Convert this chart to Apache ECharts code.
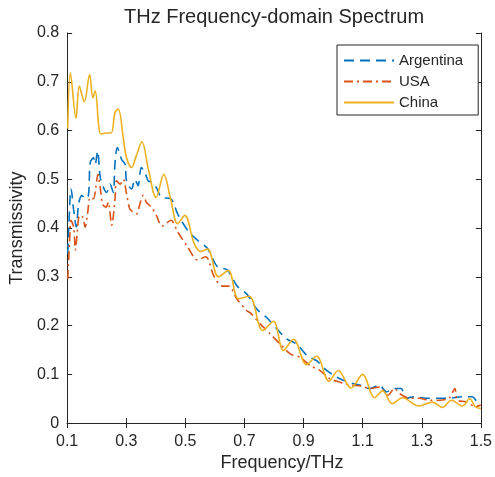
<!DOCTYPE html>
<html>
<head>
<meta charset="utf-8">
<script src="https://cdn.jsdelivr.net/npm/echarts@6/dist/echarts.min.js"></script>
<style>
  html, body { margin: 0; padding: 0; background: #fff; }
  #chart { width: 495px; height: 477px; }
</style>
</head>
<body>
<div id="chart"></div>
<script>
const xTicks = [0.1, 0.3, 0.5, 0.7, 0.9, 1.1, 1.3, 1.5];

// [frequency THz, transmissivity]
const argentina = [
  [0.102, 0.348], [0.111, 0.477], [0.113, 0.48], [0.122, 0.437], [0.131, 0.402],
  [0.139, 0.45], [0.150, 0.467], [0.161, 0.46], [0.172, 0.467], [0.178, 0.534],
  [0.189, 0.544], [0.195, 0.531], [0.203, 0.558], [0.212, 0.504], [0.223, 0.483],
  [0.234, 0.473], [0.245, 0.49], [0.256, 0.473], [0.262, 0.534], [0.270, 0.565],
  [0.284, 0.541], [0.296, 0.531], [0.301, 0.497], [0.318, 0.48], [0.329, 0.50],
  [0.340, 0.487], [0.351, 0.524], [0.363, 0.514], [0.374, 0.497], [0.385, 0.494],
  [0.402, 0.483], [0.419, 0.463], [0.451, 0.46], [0.474, 0.429], [0.507, 0.396],
  [0.541, 0.375], [0.575, 0.358], [0.608, 0.321], [0.642, 0.314], [0.675, 0.281],
  [0.709, 0.264], [0.743, 0.233], [0.776, 0.216], [0.810, 0.193], [0.844, 0.172],
  [0.877, 0.162], [0.911, 0.139], [0.944, 0.128], [0.978, 0.108], [1.023, 0.091],
  [1.067, 0.081], [1.090, 0.078], [1.124, 0.071], [1.157, 0.078], [1.180, 0.064],
  [1.208, 0.071], [1.230, 0.071], [1.247, 0.051], [1.275, 0.054], [1.314, 0.051],
  [1.359, 0.051], [1.392, 0.051], [1.437, 0.054], [1.471, 0.054], [1.487, 0.044],
  [1.500, 0.040]
];

const usa = [
  [0.102, 0.295], [0.108, 0.368], [0.113, 0.416], [0.122, 0.402], [0.128, 0.355],
  [0.133, 0.382], [0.142, 0.426], [0.153, 0.422], [0.161, 0.402], [0.169, 0.429],
  [0.178, 0.463], [0.189, 0.46], [0.197, 0.483], [0.204, 0.51], [0.212, 0.483],
  [0.220, 0.449], [0.232, 0.443], [0.239, 0.453], [0.251, 0.406], [0.262, 0.46],
  [0.267, 0.497], [0.279, 0.49], [0.290, 0.50], [0.301, 0.47], [0.312, 0.439],
  [0.324, 0.433], [0.335, 0.429], [0.346, 0.449], [0.357, 0.467], [0.368, 0.453],
  [0.385, 0.443], [0.402, 0.426], [0.421, 0.404], [0.451, 0.416], [0.474, 0.392],
  [0.507, 0.362], [0.541, 0.335], [0.569, 0.341], [0.597, 0.301], [0.625, 0.281],
  [0.647, 0.281], [0.675, 0.254], [0.709, 0.23], [0.720, 0.226], [0.754, 0.203],
  [0.787, 0.183], [0.821, 0.162], [0.855, 0.142], [0.888, 0.135], [0.922, 0.118],
  [0.955, 0.108], [0.989, 0.091], [1.023, 0.084], [1.056, 0.078], [1.096, 0.076],
  [1.124, 0.071], [1.157, 0.074], [1.185, 0.057], [1.208, 0.071], [1.224, 0.061],
  [1.258, 0.051], [1.292, 0.051], [1.325, 0.047], [1.359, 0.047], [1.392, 0.051],
  [1.412, 0.071], [1.420, 0.047], [1.449, 0.044], [1.482, 0.034], [1.500, 0.037]
];

const china = [
  [0.102, 0.604], [0.111, 0.718], [0.130, 0.625], [0.141, 0.691], [0.158, 0.659],
  [0.176, 0.715], [0.187, 0.667], [0.195, 0.681], [0.214, 0.593], [0.234, 0.595],
  [0.249, 0.595], [0.262, 0.637], [0.273, 0.644], [0.290, 0.585], [0.301, 0.544],
  [0.318, 0.524], [0.335, 0.55], [0.353, 0.577], [0.375, 0.52], [0.401, 0.463],
  [0.427, 0.510], [0.450, 0.46], [0.474, 0.409], [0.498, 0.426], [0.530, 0.368],
  [0.552, 0.352], [0.575, 0.357], [0.612, 0.300], [0.645, 0.313], [0.680, 0.255],
  [0.716, 0.260], [0.762, 0.190], [0.798, 0.209], [0.832, 0.149], [0.866, 0.172],
  [0.910, 0.120], [0.944, 0.137], [0.986, 0.086], [1.017, 0.108], [1.060, 0.072],
  [1.100, 0.100], [1.140, 0.052], [1.168, 0.066], [1.200, 0.040], [1.235, 0.052],
  [1.290, 0.035], [1.336, 0.043], [1.370, 0.032], [1.400, 0.047], [1.437, 0.035],
  [1.462, 0.050], [1.482, 0.033], [1.500, 0.030]
];

const font = "'Liberation Sans', Arial, Helvetica, sans-serif";
const ink = "#262626";

const chart = echarts.init(document.getElementById("chart"), null, { renderer: "canvas" });

const axisBase = {
  axisLine: { show: true, lineStyle: { color: ink, width: 1 } },
  axisTick: { show: true, inside: true, length: 5, lineStyle: { color: ink } },
  splitLine: { show: false },
};

const option = {
  backgroundColor: "#fff",
  animation: false,
  title: {
    text: "THz Frequency-domain Spectrum",
    left: 124, // centred over the plot area, not the canvas
    top: 7,
    padding: 0,
    textStyle: { fontFamily: font, fontSize: 20, fontWeight: "normal", color: ink },
  },
  legend: {
    orient: "vertical",
    left: 337,
    top: 45,
    padding: [8, 15, 5, 6],
    itemWidth: 50,
    itemHeight: 14,
    itemGap: 6,
    borderColor: ink,
    borderWidth: 1,
    backgroundColor: "#fff",
    selectedMode: false,
    // hide the marker dot, keep the dashed line sample
    itemStyle: { color: "transparent", borderColor: "transparent", borderWidth: 0, opacity: 0 },
    textStyle: { fontFamily: font, fontSize: 15, color: ink },
    data: ["Argentina", "USA", "China"],
  },
  grid: { left: 66, right: 12, top: 33, bottom: 49, containLabel: false },
  xAxis: [
    {
      ...axisBase,
      type: "value",
      min: 0.1,
      max: 1.5,
      name: "Frequency/THz",
      nameLocation: "middle",
      nameGap: 28,
      nameTextStyle: { fontFamily: font, fontSize: 18, color: ink, padding: [0, 0, 0, 16] },
      axisTick: { ...axisBase.axisTick, customValues: xTicks },
      axisLabel: { customValues: xTicks, margin: 10, fontFamily: font, fontSize: 16, color: ink },
    },
    {
      ...axisBase,
      type: "value",
      position: "top",
      min: 0.1,
      max: 1.5,
      axisTick: { ...axisBase.axisTick, customValues: xTicks },
      axisLabel: { show: false },
    },
  ],
  yAxis: [
    {
      ...axisBase,
      type: "value",
      min: 0,
      max: 0.8,
      interval: 0.1,
      name: "Transmissivity",
      nameLocation: "middle",
      nameGap: 39,
      nameTextStyle: { fontFamily: font, fontSize: 18, color: ink },
      axisLabel: { margin: 8, fontFamily: font, fontSize: 16, color: ink },
    },
    {
      ...axisBase,
      type: "value",
      position: "right",
      min: 0,
      max: 0.8,
      interval: 0.1,
      axisLabel: { show: false },
    },
  ],
  series: [
    {
      name: "Argentina",
      type: "line",
      data: argentina,
      symbol: "none",
      smooth: 0.3,
      lineStyle: { color: "#0072BD", width: 1.6, type: [10, 6] },
      itemStyle: { color: "#0072BD" },
    },
    {
      name: "USA",
      type: "line",
      data: usa,
      symbol: "none",
      smooth: 0.3,
      lineStyle: { color: "#D95319", width: 1.6, type: [9, 4, 2, 4] },
      itemStyle: { color: "#D95319" },
    },
    {
      name: "China",
      type: "line",
      data: china,
      symbol: "none",
      smooth: 0.35,
      lineStyle: { color: "#EDB120", width: 1.6 },
      itemStyle: { color: "#EDB120" },
    },
  ],
};

chart.setOption(option);
</script>
</body>
</html>
